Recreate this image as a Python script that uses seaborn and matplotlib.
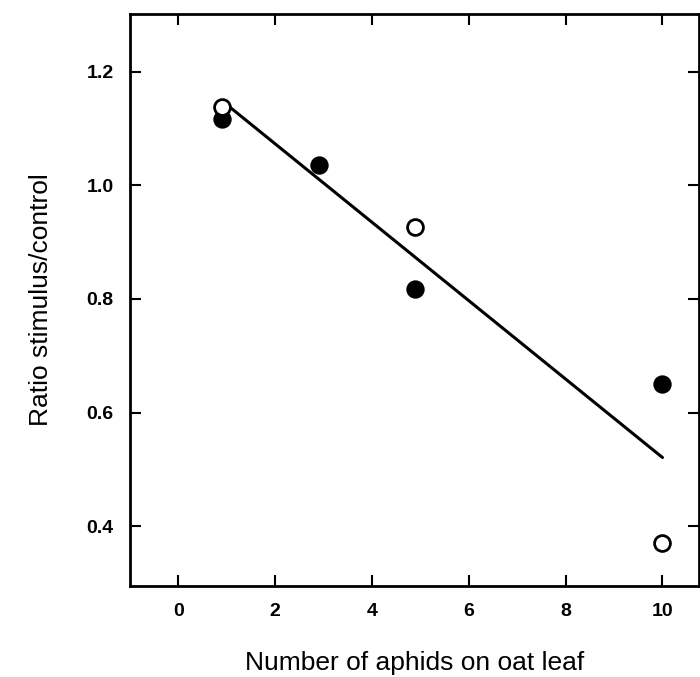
import numpy as np
import pandas as pd
import matplotlib
matplotlib.use("Agg")
import matplotlib.pyplot as plt
import seaborn as sns

# Data
filled_x = [0.9, 2.9, 4.9, 10.0]
filled_y = [1.117, 1.035, 0.818, 0.650]
open_x = [0.9, 4.9, 10.0]
open_y = [1.137, 0.927, 0.370]
fit_x = [1.0, 10.0]
fit_y = [1.142, 0.521]

x_ticks = [0, 2, 4, 6, 8, 10]
y_ticks = [0.4, 0.6, 0.8, 1.0, 1.2]

sns.set_style("ticks")
plt.rcParams["font.family"] = ["Liberation Sans", "DejaVu Sans"]
plt.rcParams["text.color"] = "black"
plt.rcParams["axes.labelcolor"] = "black"
plt.rcParams["xtick.color"] = "black"
plt.rcParams["ytick.color"] = "black"

fig = plt.figure(figsize=(7, 6.77), dpi=100)
ax = fig.add_axes([0.186, 0.134, 0.813, 0.846])

filled = pd.DataFrame({"x": filled_x, "y": filled_y})
opened = pd.DataFrame({"x": open_x, "y": open_y})
fit = pd.DataFrame({"x": fit_x, "y": fit_y})

sns.lineplot(data=fit, x="x", y="y", color="black", linewidth=2.2, ax=ax)
sns.scatterplot(data=filled, x="x", y="y", color="black", s=175,
                edgecolor="black", linewidth=0, ax=ax, zorder=3)
sns.scatterplot(data=opened, x="x", y="y", facecolor="white", s=130,
                edgecolor="black", linewidth=2, ax=ax, zorder=3)

ax.set_xlim(-0.99, 10.76)
ax.set_ylim(0.2945, 1.302)
ax.set_xticks(x_ticks)
ax.set_yticks(y_ticks)
ax.set_xticklabels([str(t) for t in x_ticks], fontweight="bold", fontsize=14)
ax.set_yticklabels([f"{t:.1f}" for t in y_ticks], fontweight="bold", fontsize=14)
ax.tick_params(direction="in", length=8, width=1.5, top=True, right=True,
               pad=12)

for s in ax.spines.values():
    s.set_visible(True)
    s.set_linewidth(2)
    s.set_color("black")

ax.set_xlabel("Number of aphids on oat leaf", fontsize=19, labelpad=22)
ax.set_ylabel("Ratio stimulus/control", fontsize=19, labelpad=24)

fig.savefig("out.png", dpi=100, facecolor="white")
